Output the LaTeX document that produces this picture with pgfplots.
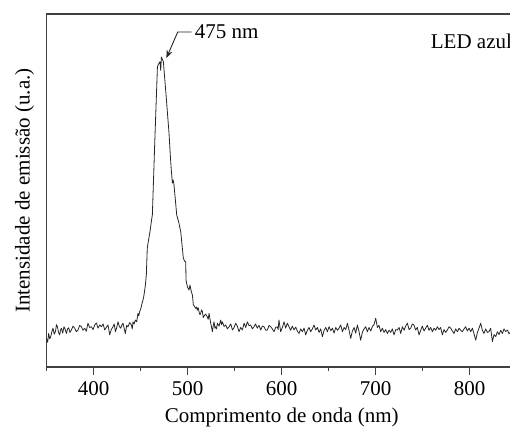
\documentclass[border=0pt]{standalone}
\usepackage{fontspec}
\setmainfont{Liberation Serif}
\usepackage{pgfplots}
\usepackage{pgfplotstable}
\pgfplotsset{compat=1.18}
\usetikzlibrary{arrows.meta}

% emission spectrum, blue LED (nm, arbitrary units)
\pgfplotstableread{
nm int
349.7 0.081
351.0 0.070
352.1 0.095
353.2 0.080
354.3 0.086
355.5 0.100
356.7 0.110
358.0 0.093
359.3 0.100
360.4 0.120
361.4 0.114
362.6 0.098
363.8 0.091
364.7 0.104
365.6 0.110
367.0 0.096
368.4 0.114
369.7 0.106
371.0 0.095
372.2 0.108
373.4 0.111
374.8 0.098
376.3 0.105
378.0 0.116
379.8 0.110
381.5 0.100
383.3 0.105
385.1 0.118
386.9 0.114
388.6 0.104
390.4 0.110
392.1 0.101
393.9 0.124
395.7 0.112
397.6 0.114
399.3 0.106
401.1 0.119
402.8 0.125
404.6 0.110
406.4 0.119
408.2 0.114
410.0 0.122
411.7 0.105
413.4 0.112
415.2 0.119
416.0 0.108
417.0 0.091
418.7 0.106
420.5 0.114
421.8 0.122
423.1 0.100
424.5 0.112
425.9 0.128
427.3 0.115
428.7 0.110
430.0 0.119
431.2 0.124
432.5 0.108
433.7 0.095
435.1 0.118
436.5 0.114
438.3 0.126
440.1 0.119
441.0 0.108
441.8 0.128
443.0 0.122
444.3 0.133
445.7 0.128
447.1 0.152
448.0 0.145
448.9 0.157
450.2 0.166
451.4 0.180
452.5 0.190
453.5 0.204
455.0 0.232
456.0 0.262
457.0 0.337
458.5 0.362
460.0 0.385
461.2 0.410
462.4 0.431
465.0 0.640
467.8 0.851
469.0 0.858
470.5 0.865
471.3 0.840
472.0 0.878
473.0 0.872
474.1 0.865
477.0 0.770
480.1 0.663
481.5 0.600
482.5 0.560
483.7 0.521
484.5 0.530
485.4 0.516
487.0 0.470
488.3 0.431
490.5 0.410
492.6 0.383
494.0 0.345
495.4 0.308
496.7 0.300
497.9 0.298
498.2 0.246
499.7 0.227
501.4 0.218
502.4 0.232
503.9 0.213
505.0 0.204
506.0 0.176
507.2 0.172
508.5 0.166
509.4 0.170
510.3 0.161
511.2 0.168
512.0 0.157
513.0 0.148
513.8 0.152
514.7 0.162
515.6 0.157
516.5 0.140
517.3 0.144
519.0 0.150
520.9 0.142
521.8 0.135
522.7 0.152
523.6 0.138
524.5 0.124
525.4 0.112
526.3 0.100
527.2 0.118
528.0 0.128
529.0 0.110
529.8 0.114
530.7 0.108
531.6 0.124
533.4 0.116
535.1 0.133
536.0 0.120
536.9 0.128
538.7 0.115
540.4 0.119
542.2 0.108
544.0 0.114
545.8 0.122
547.6 0.105
549.4 0.112
551.1 0.124
552.9 0.115
554.6 0.100
556.4 0.112
558.2 0.105
559.1 0.115
560.0 0.124
561.7 0.112
563.5 0.128
565.2 0.117
567.0 0.119
568.8 0.108
570.5 0.114
572.2 0.122
574.0 0.110
575.9 0.118
577.7 0.105
579.5 0.116
581.2 0.114
583.0 0.104
584.8 0.105
586.5 0.118
588.3 0.114
590.0 0.108
591.8 0.100
593.6 0.112
595.4 0.114
596.2 0.106
597.1 0.133
598.9 0.100
600.7 0.112
602.5 0.128
604.2 0.110
606.0 0.124
607.8 0.114
609.5 0.104
611.3 0.116
613.1 0.105
614.9 0.113
616.6 0.102
618.4 0.095
620.2 0.108
622.0 0.100
623.8 0.110
625.5 0.091
627.3 0.104
629.1 0.112
630.8 0.100
632.6 0.108
634.4 0.119
636.2 0.105
638.0 0.112
639.7 0.098
641.5 0.108
643.3 0.086
645.1 0.104
646.9 0.112
648.6 0.100
650.4 0.114
652.2 0.103
654.0 0.110
655.7 0.096
657.5 0.112
659.3 0.104
661.0 0.110
662.8 0.119
664.6 0.100
666.4 0.112
668.1 0.106
669.9 0.124
671.6 0.105
673.4 0.081
675.2 0.102
677.0 0.112
678.7 0.096
680.5 0.119
682.3 0.100
684.0 0.076
685.8 0.098
687.6 0.108
689.4 0.114
691.1 0.100
692.9 0.112
694.7 0.102
696.5 0.115
698.2 0.120
700.0 0.138
701.8 0.112
703.5 0.118
705.3 0.100
707.1 0.110
708.9 0.098
710.6 0.106
712.4 0.095
714.2 0.104
716.0 0.098
717.7 0.108
719.5 0.091
721.3 0.106
723.1 0.105
724.9 0.112
726.6 0.095
728.4 0.114
730.2 0.104
731.9 0.116
733.7 0.124
735.5 0.106
737.2 0.110
739.0 0.122
740.7 0.119
742.5 0.105
744.3 0.112
746.1 0.091
747.9 0.104
749.6 0.116
751.4 0.102
753.2 0.110
755.0 0.118
756.7 0.104
758.5 0.112
760.3 0.100
762.1 0.110
763.8 0.104
765.6 0.114
767.4 0.106
769.1 0.112
770.9 0.091
772.7 0.106
774.5 0.098
776.3 0.105
778.0 0.114
779.8 0.110
781.6 0.102
783.3 0.095
785.1 0.108
786.9 0.100
788.7 0.110
790.4 0.104
792.2 0.100
794.0 0.108
795.7 0.114
797.5 0.102
799.3 0.110
801.1 0.100
802.8 0.110
804.6 0.094
806.4 0.076
808.2 0.098
809.9 0.110
811.7 0.124
813.5 0.104
815.2 0.095
817.0 0.108
818.8 0.098
820.5 0.100
822.3 0.110
824.1 0.072
825.9 0.092
827.7 0.086
829.4 0.100
831.2 0.092
833.0 0.104
834.8 0.095
836.5 0.108
838.3 0.100
840.1 0.105
841.9 0.094
843.6 0.100
845.4 0.112
847.1 0.110
849.0 0.100
}\spectrum

\begin{document}
\fontsize{21}{25}\selectfont
\begin{tikzpicture}
% the reference is cut off just left of the right spine
\useasboundingbox (0,0) rectangle (510pt,429pt);
\begin{axis}[
  at={(46.7pt,62pt)}, anchor=south west,
  scale only axis, width=470pt, height=353pt,
  xmin=350, xmax=850, ymin=0, ymax=1,
  xtick={400,500,...,800}, minor xtick={350,450,...,850},
  ytick=\empty, xtick pos=bottom, tick align=outside,
  major tick length=8pt, minor tick length=4pt,
  axis line style={black!75, line width=1.2pt},
  every tick/.style={black!75, line width=1pt},
  /pgf/number format/assume math mode=true,
  xticklabel style={anchor=base, yshift=-20pt},
  xlabel={Comprimento de onda (nm)},
  ylabel={Intensidade de emissão (u.a.)},
  xlabel style={at={(axis description cs:0.5,0)}, anchor=base, yshift=-55pt},
  ylabel style={at={(axis description cs:-0.047,0.5)}, anchor=center},
  clip=false]
\addplot[black!85, line width=0.8pt, line join=round] table[x=nm, y=int] {\spectrum};
\draw[black!85, line width=0.9pt, -{Stealth[length=8pt, width=6pt]}]
  (axis cs:504.3,0.949) -- (axis cs:489.4,0.949) -- (axis cs:477.3,0.875);
\node[anchor=west, inner sep=3pt] at (axis cs:504.3,0.949) {475 nm};
\node[anchor=base west, inner sep=0pt] at (axis cs:758.5,0.903) {LED azul};
\end{axis}
\end{tikzpicture}
\end{document}
